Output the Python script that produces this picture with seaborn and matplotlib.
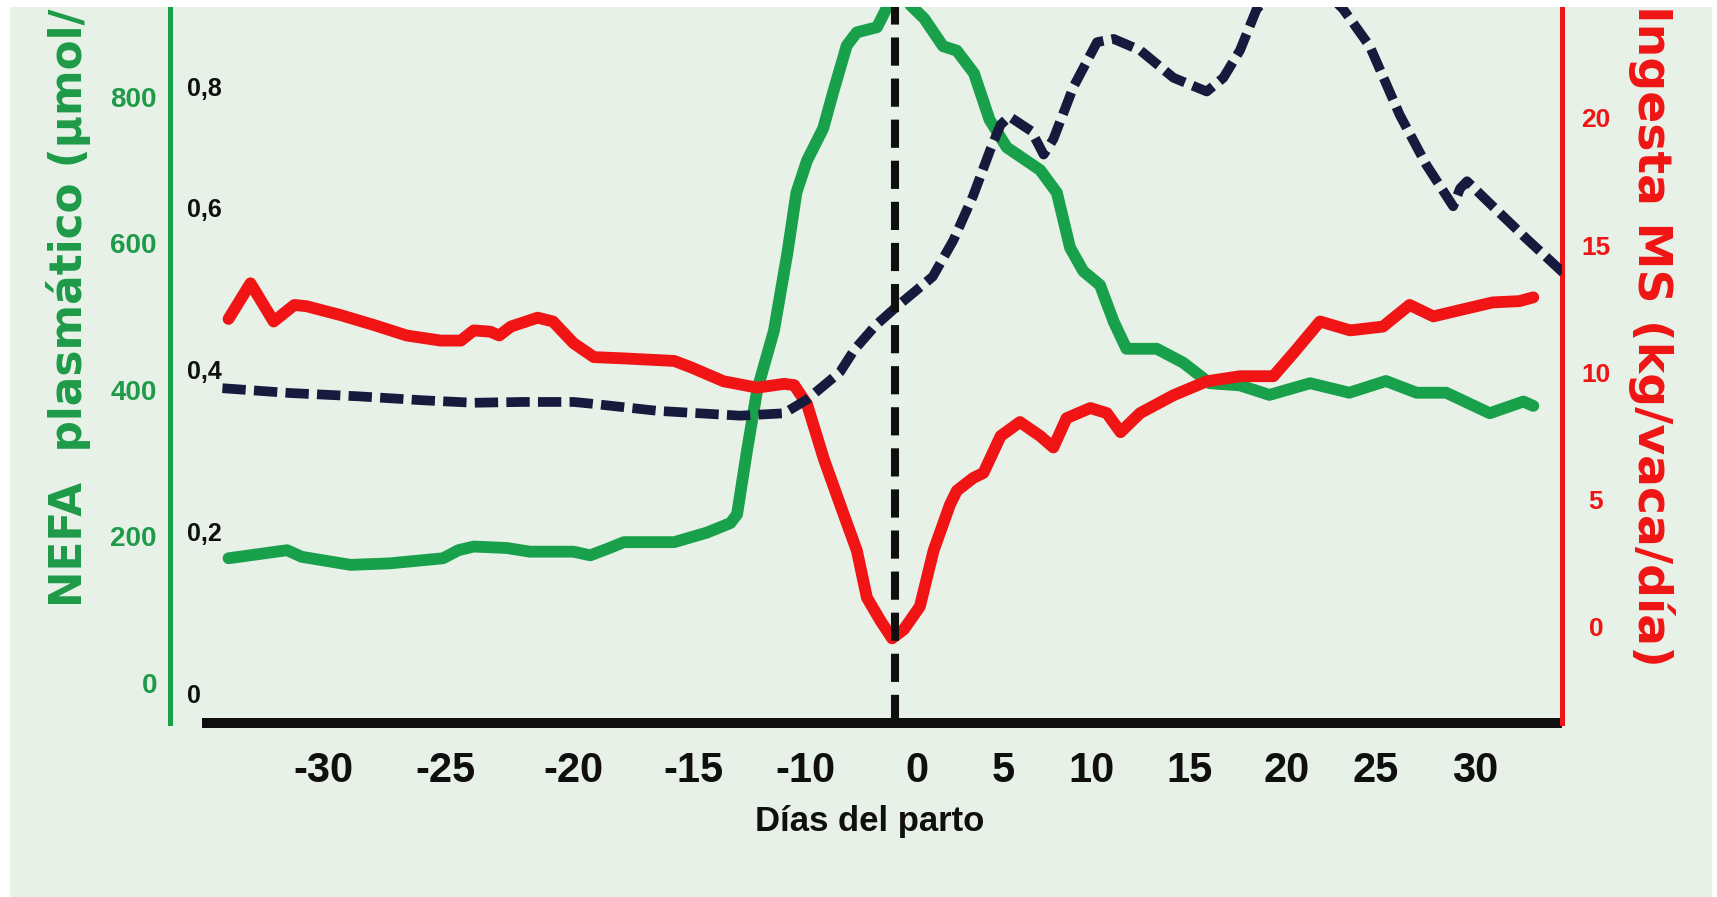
import numpy as np
import matplotlib
matplotlib.use("Agg")
import matplotlib.pyplot as plt
from matplotlib import font_manager
from matplotlib.patches import Rectangle
import seaborn as sns

# ---------------------------------------------------------------------------
# Series (days relative to calving)
# ---------------------------------------------------------------------------
nefa_days = [-33.9, -31.5, -30.9, -28.9, -27.3, -25.1, -24.5, -23.9, -22.6, -21.7,
             -20.0, -19.3, -18.5, -17.9, -15.8, -14.4, -13.35, -13.05, -12.6, -12.15,
             -11.4, -10.8, -10.4, -9.85, -8.4, -7.5, -6.3, -5.4, -3.6, -3.0,
             -1.5, -0.6, 0.4, 1.5, 2.3, 3.3, 4.2, 5.2, 7.1, 8.05,
             8.8, 9.55, 10.45, 11.15, 11.8, 13.35, 14.7, 16.05, 17.6, 19.1,
             21.3, 23.5, 25.5, 27.05, 28.55, 30.75, 32.45, 32.95]
nefa_values = [170, 181, 172, 161, 163, 170, 181, 186, 184, 179,
               179, 174, 184, 192, 192, 205, 218, 230, 318, 400,
               481, 587, 669, 713, 757, 807, 870, 888, 895, 913,
               960, 925, 907, 869, 863, 832, 769, 731, 700, 669,
               594, 562, 543, 493, 456, 456, 437, 409, 406, 393,
               409, 396, 412, 396, 396, 368, 384, 378]

dmi_days = [-33.9, -33.0, -32.05, -31.2, -30.7, -29.3, -27.9, -26.6, -25.2, -24.4,
            -23.9, -23.25, -22.9, -22.45, -21.4, -20.8, -20.0, -19.15, -17.9, -15.8,
            -15.1, -13.65, -12.15, -10.95, -10.5, -9.85, -8.35, -6.6, -5.4, -4.5,
            -3.3, -2.25, -1.2, 0.15, 0.95, 1.9, 2.3, 3.25, 3.85, 4.85,
            5.95, 7.1, 7.85, 8.6, 9.95, 10.8, 11.5, 12.5, 14.2, 15.9,
            17.6, 19.3, 20.35, 21.85, 23.55, 25.35, 26.7, 27.9, 29.25, 30.9,
            32.25, 32.95]
dmi_values = [12.1, 13.5, 12.0, 12.65, 12.6, 12.25, 11.85, 11.45, 11.25, 11.25,
              11.65, 11.6, 11.45, 11.8, 12.15, 12.0, 11.15, 10.6, 10.55, 10.45,
              10.2, 9.65, 9.4, 9.55, 9.5, 8.75, 6.6, 4.45, 3.0, 1.15,
              0.25, -0.45, -0.1, 0.8, 3.0, 4.8, 5.35, 5.85, 6.05, 7.5,
              8.05, 7.5, 7.05, 8.2, 8.6, 8.4, 7.65, 8.4, 9.1, 9.65,
              9.85, 9.85, 10.75, 12.0, 11.65, 11.8, 12.65, 12.2, 12.45, 12.75,
              12.8, 12.95]

bhb_days = [-34.15, -31.35, -28.6, -25.9, -23.9, -21.95, -20.0, -19.3, -16.5, -12.9,
            -10.95, -9.85, -6.9, -5.6, -3.7, -2.0, 0.9, 2.1, 3.25, 4.25,
            4.85, 5.35, 6.6, 7.3, 7.85, 9.0, 10.3, 11.15, 12.5, 14.2,
            15.9, 16.75, 17.6, 18.45, 20.7, 23.15, 24.65, 26.2, 27.55, 28.9,
            29.25, 29.6, 30.9, 32.6, 34.5]
bhb_values = [0.377, 0.371, 0.367, 0.362, 0.359, 0.360, 0.360, 0.358, 0.349, 0.343,
              0.346, 0.363, 0.397, 0.425, 0.455, 0.476, 0.515, 0.560, 0.615, 0.672,
              0.703, 0.713, 0.695, 0.666, 0.685, 0.750, 0.805, 0.809, 0.795, 0.761,
              0.744, 0.761, 0.795, 0.846, 0.900, 0.846, 0.800, 0.715, 0.653, 0.602,
              0.624, 0.633, 0.602, 0.562, 0.519]

calving_day = -2

x_ticks = [-30, -25, -20, -15, -10, 0, 5, 10, 15, 20, 25, 30]
x_tick_labels = ["-30", "-25", "-20", "-15", "-10", "0", "5", "10", "15", "20", "25", "30"]
nefa_ticks = [0, 200, 400, 600, 800]
dmi_ticks = [0, 5, 10, 15, 20]
bhb_ticks = [0, 0.2, 0.4, 0.6, 0.75]
bhb_tick_labels = ["0", "0,2", "0,4", "0,6", "0,8"]

# ---------------------------------------------------------------------------
# Style
# ---------------------------------------------------------------------------
BG = "#e7f1e8"
GREEN = "#19a04a"
GREEN_TXT = "#1e9a48"
RED = "#f01414"
NAVY = "#161b3e"
BLACK = "#0f0f0f"

available = {f.name for f in font_manager.fontManager.ttflist}
NARROW = "Liberation Sans Narrow" if "Liberation Sans Narrow" in available else "Liberation Sans"

sns.set_style("white")
plt.rcParams["font.family"] = [NARROW, "DejaVu Sans"]
plt.rcParams["font.weight"] = "bold"
plt.rcParams["axes.labelweight"] = "bold"

# Day axis: piecewise-linear spacing of the printed day labels
scale_days = np.array([-30, -25, -20, -15, -10, 0, 5, 10, 15, 20, 25, 30], dtype=float)
scale_pos = np.array([323, 445, 573, 693, 805, 917, 1003, 1091, 1189, 1287, 1376, 1475], dtype=float)


def _piecewise(v, xs, ys):
    v = np.asarray(v, dtype=float)
    out = np.interp(v, xs, ys)
    lo = (ys[1] - ys[0]) / (xs[1] - xs[0])
    hi = (ys[-1] - ys[-2]) / (xs[-1] - xs[-2])
    out = np.where(v < xs[0], ys[0] + (v - xs[0]) * lo, out)
    out = np.where(v > xs[-1], ys[-1] + (v - xs[-1]) * hi, out)
    return out


def day_fwd(d):
    return _piecewise(d, scale_days, scale_pos)


def day_inv(p):
    return _piecewise(p, scale_pos, scale_days)


W, H = 1717, 897
fig = plt.figure(figsize=(W / 100, H / 100), dpi=100, facecolor="white")
fig.add_artist(Rectangle((10 / W, 0), (1712 - 10) / W, (H - 7) / H,
                         transform=fig.transFigure, facecolor=BG,
                         edgecolor="none", zorder=-10))

ax = fig.add_axes([170 / W, 1 - 723 / H, (1562 - 170) / W, (723 - 7) / H])
ax.patch.set_visible(False)
ax_r = ax.twinx()
ax_b = ax.twinx()

# NEFA (left axis)
sns.lineplot(x=nefa_days, y=nefa_values, ax=ax, color=GREEN, linewidth=8.5,
             sort=False, estimator=None)
# Dry matter intake (right axis)
sns.lineplot(x=dmi_days, y=dmi_values, ax=ax_r, color=RED, linewidth=8.5,
             sort=False, estimator=None)
# BHB (inner axis)
sns.lineplot(x=bhb_days, y=bhb_values, ax=ax_b, color=NAVY, linewidth=7,
             sort=False, estimator=None)
for a in (ax, ax_r):
    for ln in a.lines:
        ln.set_solid_capstyle("round")
        ln.set_solid_joinstyle("round")
bhb_line = ax_b.lines[-1]
bhb_line.set_linestyle((0, (2.4, 0.85)))
bhb_line.set_dash_capstyle("butt")
bhb_line.set_dash_joinstyle("round")

ax_b.axvline(calving_day, color=BLACK, linewidth=5.8,
             linestyle=(0, (3.5, 1.6)), zorder=5)

# Axis scales and limits
ax.set_xscale("function", functions=(day_fwd, day_inv))
ax.set_xlim(-36.3, 34.4)
ax.set_ylim(-54.9, 922.6)
ax_r.set_ylim(-3.776, 24.357)
ax_b.set_ylim(-0.0371, 0.8485)

# Spines
for a in (ax, ax_r, ax_b):
    for s in a.spines.values():
        s.set_visible(False)
ax.spines["left"].set_visible(True)
ax.spines["left"].set_color(GREEN)
ax.spines["left"].set_linewidth(3.6)
ax.spines["bottom"].set_visible(True)
ax.spines["bottom"].set_color(BLACK)
ax.spines["bottom"].set_linewidth(7.2)
ax.spines["bottom"].set_bounds(-35, 34.4)
ax.spines["bottom"].set_capstyle("butt")
ax_r.spines["right"].set_visible(True)
ax_r.spines["right"].set_color(RED)
ax_r.spines["right"].set_linewidth(3.6)

# Ticks
ax.set_xticks(x_ticks, labels=x_tick_labels)
ax.tick_params(axis="x", length=0, pad=20.5, labelsize=30, labelcolor=BLACK)
ax.set_yticks(nefa_ticks, labels=[str(v) for v in nefa_ticks])
ax.tick_params(axis="y", length=0, pad=9.4, labelsize=20, labelcolor=GREEN_TXT)

ax_r.set_yticks(dmi_ticks, labels=[str(v) for v in dmi_ticks])
ax_r.tick_params(axis="y", length=0, pad=24.5, labelsize=19, labelcolor=RED)
for t in ax_r.get_yticklabels():
    t.set_horizontalalignment("center")

ax_b.yaxis.tick_left()
ax_b.set_yticks(bhb_ticks, labels=bhb_tick_labels)
ax_b.tick_params(axis="y", length=0, pad=-12.2, labelsize=18, labelcolor=BLACK)
for t in ax_b.get_yticklabels():
    t.set_horizontalalignment("left")
    t.set_fontfamily("Liberation Sans")

# Axis titles
ax.set_xlabel("Días del parto", fontsize=25, fontweight="bold", color=BLACK)
ax.xaxis.set_label_coords((870 - 170) / (1562 - 170), (723 - 805) / (723 - 7))
ax.set_ylabel("")
ax_r.set_ylabel("")
ax_b.set_ylabel("")

fig.text(69 / W, 1 - 607 / H, "NEFA  plasmático (µmol/l)", rotation=90,
         ha="center", va="bottom", fontsize=31.5, color=GREEN_TXT,
         family="DejaVu Sans", weight="bold")
fig.text(1651 / W, 1 - 667 / H, "Ingesta MS (kg/vaca/día)", rotation=-90,
         ha="center", va="bottom", fontsize=34, color=RED,
         family="DejaVu Sans", weight="bold")

# Outer white frame along the top edge
fig.add_artist(Rectangle((0, 1 - 7 / H), 1, 7 / H, transform=fig.transFigure,
                         facecolor="white", edgecolor="none", zorder=100))

fig.savefig("out.png", dpi=100, facecolor="white")
